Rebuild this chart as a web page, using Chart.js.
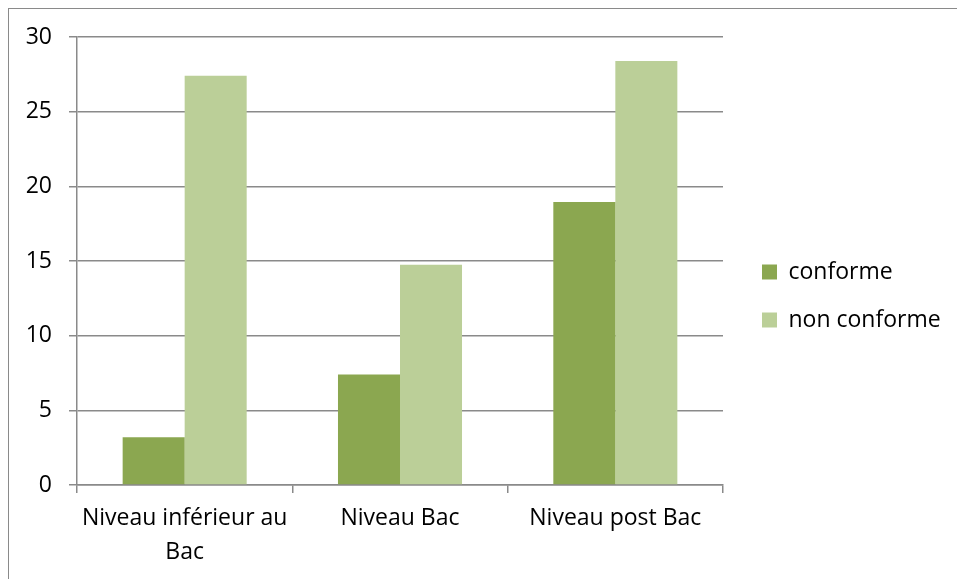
<!DOCTYPE html>
<html>
<head>
<meta charset="utf-8">
<script src="https://cdn.jsdelivr.net/npm/chart.js@4.4.0/dist/chart.umd.min.js"></script>
<style>
  body { margin: 0; background: #fff; overflow: hidden; }
  #cadre { position: absolute; left: 8px; top: 8px; width: 1000px; height: 1000px; border: 1px solid #8a8a8a; }
  #zone { position: absolute; left: 0; top: 0; width: 957px; height: 579px; }
</style>
</head>
<body>
<div id="cadre"></div>
<div id="zone"><canvas id="myChart" width="957" height="579"></canvas></div>
<script>
let categories = [['Niveau inférieur au', 'Bac'], 'Niveau Bac', 'Niveau post Bac']
let conforme = [3.2, 7.4, 18.95]
let nonConforme = [27.4, 14.75, 28.4]
let yTicks = [0, 5, 10, 15, 20, 25, 30]

const gris = '#8a8a8a'
Chart.defaults.font.family = "'Open Sans'"
Chart.defaults.color = '#000'

// legende: largeur fixe puis decalage
const legendePlugin = {
    id: 'legendePlugin',
    beforeInit(chart) {
        const fitOrig = chart.legend.fit
        chart.legend.fit = function () {
            fitOrig.call(this)
            this.width = 234
        }
    },
    afterLayout(chart) {
        chart.legend.left += 14
        chart.legend.right += 14
        chart.legend.top -= 12
        chart.legend.bottom -= 12
    }
}

function plotarGrafico() {
    const data = {
        labels: categories,
        datasets: [
            {
                label: 'conforme',
                backgroundColor: 'rgb(139,167,80)',
                data: conforme,
                categoryPercentage: 0.576,
                barPercentage: 1,
            },
            {
                label: 'non conforme',
                backgroundColor: 'rgb(187,207,152)',
                data: nonConforme,
                categoryPercentage: 0.576,
                barPercentage: 1,
            },
        ],
    }
    const config = {
        type: 'bar',
        data,
        plugins: [legendePlugin],
        options: {
            responsive: false,
            animation: false,
            layout: { padding: { top: 37, left: 0, right: 0, bottom: 0 } },
            plugins: {
                tooltip: { enabled: false },
                legend: {
                    position: 'right',
                    labels: {
                        boxWidth: 15,
                        boxHeight: 15,
                        padding: 25,
                        font: { size: 23 },
                        color: '#000',
                    },
                },
            },
            scales: {
                x: {
                    afterFit(scale) { scale.height = 94 },
                    grid: {
                        drawOnChartArea: false,
                        drawTicks: true,
                        tickLength: 8,
                        color: gris,
                        lineWidth: 1.5,
                    },
                    border: { display: true, color: gris, width: 1.5 },
                    ticks: {
                        font: { size: 23, lineHeight: 1.45 },
                        padding: 9,
                        maxRotation: 0,
                        autoSkip: false,
                    },
                },
                y: {
                    min: 0,
                    max: 30,
                    afterFit(scale) { scale.width = 77 },
                    afterBuildTicks(scale) {
                        scale.ticks = yTicks.map(v => ({ value: v }))
                    },
                    grid: {
                        color: gris,
                        lineWidth: 1.5,
                        drawTicks: true,
                        tickLength: 8,
                    },
                    border: { display: true, color: gris, width: 1.5 },
                    ticks: {
                        font: { size: 23 },
                        padding: 17,
                    },
                },
            },
        },
    }
    new Chart(document.getElementById('myChart').getContext('2d'), config)
}

plotarGrafico()
</script>
</body>
</html>
